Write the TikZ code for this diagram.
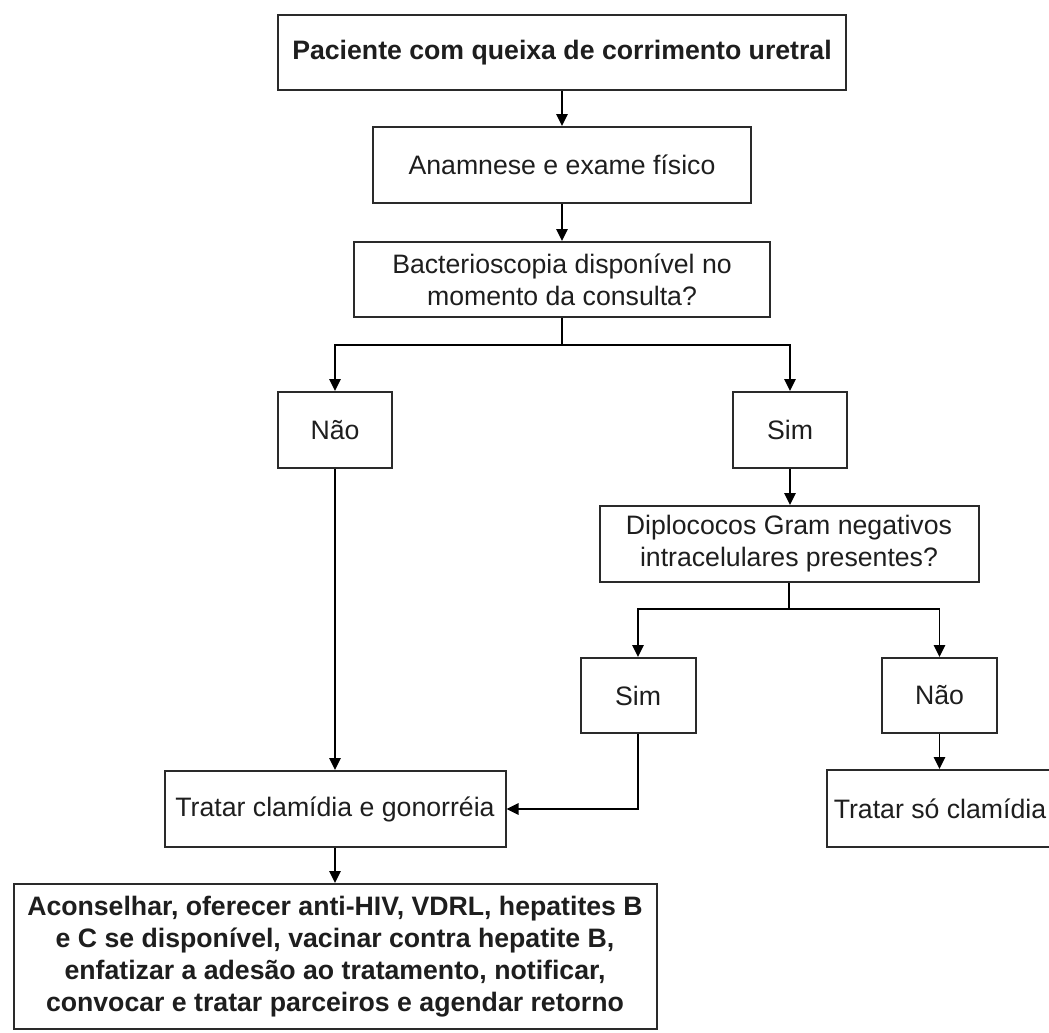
\documentclass[tikz,border=0pt]{standalone}
\usepackage{fontspec}
\setmainfont{Liberation Sans}
\usetikzlibrary{arrows.meta}
\definecolor{edge}{HTML}{2A2A2A}
\definecolor{ink}{HTML}{1E1E1E}
\begin{document}
\begin{tikzpicture}[x=0.75pt,y=-0.75pt,
  box/.style={draw=edge,line width=1.5pt,fill=white,inner sep=0pt,align=center,
    text=ink,font=\fontsize{20pt}{24pt}\selectfont},
  boldbox/.style={box,font=\fontsize{20pt}{24pt}\selectfont\bfseries},
  link/.style={draw=black,line width=1.3pt},
  arr/.style={link,-{Triangle[length=9pt,width=8.5pt]}}]
\useasboundingbox (0,0) rectangle (1049,1032);
\fill[white] (0,0) rectangle (1049,1032);

% boxes
\node[boldbox,minimum width=426pt,minimum height=56.25pt] (p1) at (562,52.5)
  {Paciente com queixa de corrimento uretral};
\node[box,minimum width=283.5pt,minimum height=57pt] (p2) at (562,165)
  {Anamnese e exame físico};
\node[box,minimum width=312pt,minimum height=56.25pt] (p3) at (562,279.5)
  {Bacterioscopia disponível no\\momento da consulta?};
\node[box,minimum width=85.5pt,minimum height=57pt] (nao1) at (335,430) {Não};
\node[box,minimum width=85.5pt,minimum height=57pt] (sim1) at (790,430) {Sim};
\node[box,minimum width=284.25pt,minimum height=57pt] (diplo) at (789,544)
  {Diplococos Gram negativos\\intracelulares presentes?};
\node[box,minimum width=86.25pt,minimum height=56.25pt] (sim2) at (638,695.5) {Sim};
\node[box,minimum width=86.25pt,minimum height=56.25pt] (nao2) at (939.5,695.5) {Não};
\node[box,minimum width=169.5pt,minimum height=57.75pt] (so) at (940,808.5)
  {Tratar só clamídia};
\node[box,minimum width=255.75pt,minimum height=57pt] (trat) at (335,809)
  {Tratar clamídia e gonorréia};
\node[boldbox,minimum width=482.25pt,minimum height=108.75pt] (final) at (335,956.5)
  {Aconselhar, oferecer anti-HIV, VDRL, hepatites B\\
   e C se disponível, vacinar contra hepatite B,\\
   enfatizar a adesão ao tratamento, notificar,\\
   convocar e tratar parceiros e agendar retorno};

% branch points
\coordinate (j1) at (562,345);
\coordinate (j2) at (789,609);

% connectors
\draw[arr] (p1.south) -- (p1.south |- p2.north);
\draw[arr] (p2.south) -- (p2.south |- p3.north);
\draw[link] (p3.south) -- (j1);
\draw[arr] (j1) -| (nao1.north);
\draw[arr] (j1) -| (sim1.north);
\draw[arr] (sim1.south) -- (sim1.south |- diplo.north);
\draw[link] (diplo.south) -- (j2);
\draw[arr] (j2) -| (sim2.north);
\draw[arr] (j2) -| (nao2.north);
\draw[arr] (nao2.south) -- (nao2.south |- so.north);
\draw[arr] (nao1.south) -- (nao1.south |- trat.north);
\draw[arr] (sim2.south) |- (trat.east);
\draw[arr] (trat.south) -- (trat.south |- final.north);
\end{tikzpicture}
\end{document}
